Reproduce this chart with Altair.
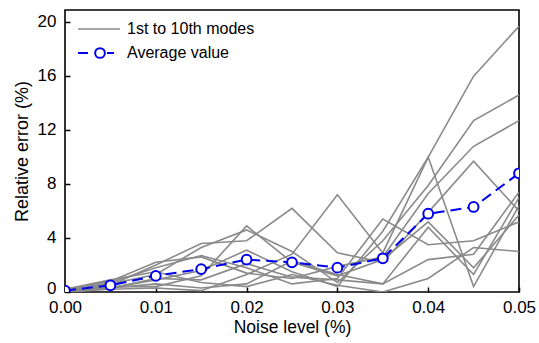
import altair as alt
import pandas as pd

noise = [0.0, 0.005, 0.01, 0.015, 0.02, 0.025, 0.03, 0.035, 0.04, 0.045, 0.05]

mode1 = [0.0, 0.3, 0.9, 1.6, 3.1, 1.5, 0.4, 4.5, 10.0, 16.0, 19.7]
mode2 = [0.1, 0.6, 1.3, 3.3, 4.6, 3.0, 0.7, 3.8, 7.9, 12.7, 14.6]
mode3 = [0.2, 0.8, 2.2, 2.6, 1.4, 1.0, 1.9, 2.6, 7.3, 10.8, 12.7]
mode4 = [0.1, 0.5, 2.0, 3.6, 3.8, 6.2, 2.9, 2.2, 5.9, 9.7, 6.0]
mode5 = [0.0, 0.2, 0.3, 0.1, 1.3, 2.8, 7.2, 2.9, 10.0, 0.4, 6.4]
mode6 = [0.2, 0.9, 1.5, 0.7, 0.4, 1.3, 0.5, 0.0, 1.0, 3.3, 3.0]
mode7 = [0.1, 0.4, 0.4, 1.2, 4.9, 2.2, 1.2, 2.4, 5.2, 1.8, 5.7]
mode8 = [0.1, 0.7, 1.8, 2.7, 1.8, 0.6, 1.0, 5.4, 3.5, 3.8, 5.2]
mode9 = [0.1, 0.3, 1.0, 0.9, 2.1, 1.1, 0.9, 0.6, 4.8, 1.3, 7.0]
mode10 = [0.1, 0.3, 0.6, 0.3, 0.6, 2.3, 1.3, 0.6, 2.4, 2.8, 7.4]
modes = [mode1, mode2, mode3, mode4, mode5, mode6, mode7, mode8, mode9, mode10]

average = [0.1, 0.5, 1.2, 1.7, 2.4, 2.2, 1.8, 2.5, 5.8, 6.3, 8.8]

legend_labels = ["1st to 10th modes", "Average value"]
x_ticks = [0.0, 0.01, 0.02, 0.03, 0.04, 0.05]
y_ticks = [0, 4, 8, 12, 16, 20]

GRAY = "#8a8a8a"
BLUE = "#0000ee"
FONT = "Liberation Sans"

rows = []
for i, m in enumerate(modes):
    for xv, yv in zip(noise, m):
        rows.append({"noise": xv, "err": yv, "mode": f"Mode {i+1}"})
df_modes = pd.DataFrame(rows)
df_avg = pd.DataFrame({"noise": noise, "err": average})

xscale = alt.Scale(domain=[0, 0.05], nice=False, zero=False)
yscale = alt.Scale(domain=[0, 20.9], nice=False)

xaxis = alt.Axis(
    title="Noise level (%)", values=x_ticks, format=".2f", grid=False,
    domain=False, offset=-5, tickSize=5, tickColor="black", tickWidth=1.5,
    labelPadding=7, labelFontSize=17, titleFontSize=17.5, labelFont=FONT,
    titleFont=FONT, labelColor="black", titleColor="black",
    titleFontWeight="normal", titlePadding=3, labelFlush=False,
)
yaxis = alt.Axis(
    title="Relative error (%)", values=y_ticks, grid=False,
    domain=False, offset=-5, tickSize=5, tickColor="black", tickWidth=1.5,
    labelPadding=9, labelFontSize=17, titleFontSize=18, labelFont=FONT,
    titleFont=FONT, labelColor="black", titleColor="black",
    titleFontWeight="normal", titlePadding=6,
    labelOffset={"condition": {"test": "datum.value === 0", "value": -4}, "value": -1},
)

gray_lines = alt.Chart(df_modes).mark_line(color=GRAY, strokeWidth=1.6, clip=True).encode(
    x=alt.X("noise:Q", scale=xscale, axis=xaxis),
    y=alt.Y("err:Q", scale=yscale, axis=yaxis),
    detail="mode:N",
)

avg_line = alt.Chart(df_avg).mark_line(
    color=BLUE, strokeWidth=2, strokeDash=[11, 6], clip=True
).encode(
    x=alt.X("noise:Q", scale=xscale),
    y=alt.Y("err:Q", scale=yscale),
)

avg_pts = alt.Chart(df_avg).mark_point(
    shape="circle", filled=True, fill="white", stroke=BLUE, strokeWidth=2,
    size=95, opacity=1, clip=True
).encode(
    x=alt.X("noise:Q", scale=xscale),
    y=alt.Y("err:Q", scale=yscale),
)

# legend (manual, inside upper-left)
leg1 = pd.DataFrame({"label": [legend_labels[0]]})
leg2 = pd.DataFrame({"label": [legend_labels[1]]})

leg_gray = alt.Chart(leg1).mark_rule(color=GRAY, strokeWidth=1.6).encode(
    x=alt.value(13), x2=alt.value(55), y=alt.value(19)
)
leg_text1 = alt.Chart(leg1).mark_text(
    align="left", baseline="middle", fontSize=16, font=FONT, color="black"
).encode(x=alt.value(62), y=alt.value(19), text="label:N")

leg_blue_a = alt.Chart(leg2).mark_rule(color=BLUE, strokeWidth=2).encode(
    x=alt.value(13), x2=alt.value(23), y=alt.value(43)
)
leg_blue_b = alt.Chart(leg2).mark_rule(color=BLUE, strokeWidth=2).encode(
    x=alt.value(42), x2=alt.value(49), y=alt.value(43)
)
leg_pt = alt.Chart(leg2).mark_point(
    shape="circle", filled=True, fill="white", stroke=BLUE, strokeWidth=2,
    size=95, opacity=1
).encode(x=alt.value(35), y=alt.value(43))
leg_text2 = alt.Chart(leg2).mark_text(
    align="left", baseline="middle", fontSize=16, font=FONT, color="black"
).encode(x=alt.value(62), y=alt.value(43), text="label:N")

chart = alt.layer(
    gray_lines, avg_line, avg_pts,
    leg_gray, leg_text1, leg_blue_a, leg_blue_b, leg_pt, leg_text2,
).properties(
    width=454, height=282,
    autosize=alt.AutoSizeParams(type="none"),
    padding={"left": 65, "top": 10, "right": 20, "bottom": 51},
    background="white",
).configure_view(
    stroke="black", strokeWidth=1.6
)

chart.save("out.html", embed_options={"renderer": "svg", "actions": False})
